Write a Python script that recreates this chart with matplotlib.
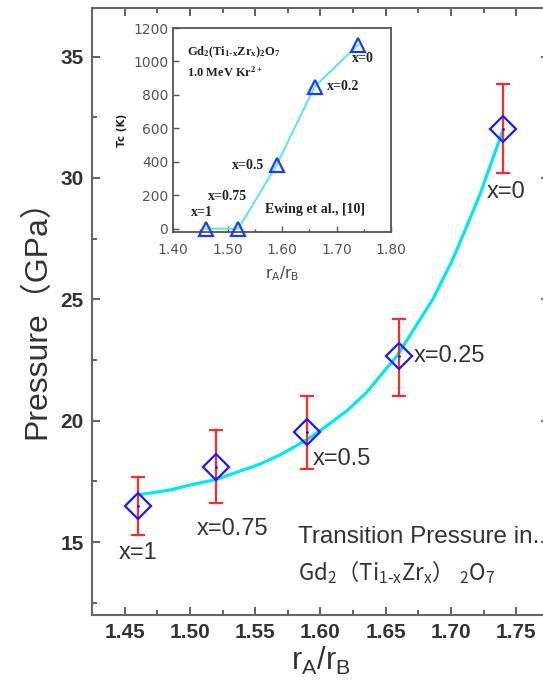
import numpy as np
import matplotlib
matplotlib.use('Agg')
import matplotlib.pyplot as plt
from matplotlib.ticker import MultipleLocator

# Datos: presión de transición vs r_A/r_B
ratio = [1.46, 1.52, 1.59, 1.66, 1.74]
pressure = [16.5, 18.1, 19.55, 22.65, 32.0]
err_low = [15.3, 16.6, 18.0, 21.0, 30.2]
err_high = [17.7, 19.6, 21.0, 24.2, 33.85]
labels_main = ['x=1', 'x=0.75', 'x=0.5', 'x=0.25', 'x=0']

# curva ajustada (puntos leídos sobre la línea cian)
fit_x = [1.46, 1.485, 1.50, 1.52, 1.553, 1.57, 1.589, 1.60, 1.62, 1.635, 1.659,
         1.686, 1.70, 1.7065, 1.722, 1.73, 1.74]
fit_y = [16.94, 17.15, 17.35, 17.58, 18.2, 18.62, 19.2, 19.6, 20.4, 21.15, 22.7,
         25.0, 26.5, 27.3, 29.3, 30.5, 32.0]

# Recuadro: temperatura crítica Tc (Ewing et al.)
inset_x = [1.46, 1.52, 1.59, 1.66, 1.74]
inset_tc = [0, 0, 380, 850, 1100]
labels_inset = ['x=1', 'x=0.75', 'x=0.5', 'x=0.2', 'x=0']

plt.rcParams['mathtext.default'] = 'regular'
gris = '#333333'

fig = plt.figure(figsize=(5.43, 6.83), dpi=100)
ax = fig.add_axes([0.1694, 0.0996, 0.8416, 0.8887])

ax.plot(fit_x, fit_y, color='#00e8f0', lw=2.3, solid_capstyle='round',
        solid_joinstyle='round', zorder=2)
yerr = [np.array(pressure) - np.array(err_low), np.array(err_high) - np.array(pressure)]
ax.errorbar(ratio, pressure, yerr=yerr, fmt='none', ecolor='#ff2a2a', elinewidth=1.6,
            capsize=4.7, capthick=1.6, zorder=3)
ax.plot(ratio, pressure, 'D', ms=13.5, mfc='none', mec='#1a1aff', mew=1.6, zorder=4)
ax.plot(ratio, pressure, '.', ms=2, color='#1a1aff', zorder=5)

# etiquetas de cada punto (desplazamientos en puntos)
offsets = [(0, -34, 'center'), (12, -45, 'center'), (3.7, -20, 'left'),
           (11, 0, 'left'), (2, -45, 'center')]
for xi, yi, lab, (dx, dy, ha) in zip(ratio, pressure, labels_main, offsets):
    ax.annotate(lab, (xi, yi), xytext=(dx, dy), textcoords='offset points',
                ha=ha, va='center', fontsize=17, color=gris, family='Liberation Sans')

ax.text(0.451, 0.1285, 'Transition Pressure in.', transform=ax.transAxes,
        fontsize=17.5, color=gris, family='Liberation Sans', va='center')
ax.text(0.451, 0.0708, r'Gd$_2$（Ti$_{1\text{-}x}$Zr$_x$） $_2$O$_7$', transform=ax.transAxes,
        fontsize=16, color=gris, family='Noto Sans CJK SC', va='center')

ax.set_xlim(1.425, 1.775)
ax.set_ylim(12, 37)
ax.xaxis.set_major_locator(MultipleLocator(0.05))
ax.xaxis.set_minor_locator(MultipleLocator(0.025))
ax.yaxis.set_major_locator(MultipleLocator(5))
ax.yaxis.set_minor_locator(MultipleLocator(2.5))
ax.xaxis.set_major_formatter(plt.FormatStrFormatter('%.2f'))
ax.tick_params(which='both', direction='in', top=True, right=True, color='#555555',
               width=1.3)
ax.tick_params(which='major', length=6, labelsize=15, labelcolor=gris, pad=6)
ax.tick_params(which='minor', length=3.5)
for t in ax.get_xticklabels() + ax.get_yticklabels():
    t.set_fontweight('bold')
    t.set_family('Liberation Sans')
for s in ax.spines.values():
    s.set_color('#666666')
    s.set_linewidth(1.5)

ax.set_xlabel('r$_A$/r$_B$', fontsize=22, color=gris, family='Liberation Sans', labelpad=2)
ax.set_ylabel('Pressure（GPa）', fontsize=23, color=gris,
              family=['Liberation Sans', 'Noto Sans CJK SC'], labelpad=6)

# Recuadro
axi = fig.add_axes([0.3186, 0.6603, 0.4015, 0.2987])
axi.plot(inset_x, inset_tc, color='#60e4f0', lw=1.5, zorder=2)
axi.plot(inset_x, inset_tc, '^', ms=10, mfc='none', mec='#1a3cff', mew=1.6,
         clip_on=False, zorder=3)
offs_in = [(-3, 12, 'center'), (-8, 23, 'center'), (-9, 0, 'right'),
           (9, 0, 'left'), (3.6, -10, 'center')]
for xi, yi, lab, (dx, dy, ha) in zip(inset_x, inset_tc, labels_inset, offs_in):
    axi.annotate(lab, (xi, yi), xytext=(dx, dy), textcoords='offset points',
                 ha=ha, va='center', fontsize=10, fontweight='bold', color='#222222',
                 family='Liberation Serif')
axi.text(0.064, 0.882, r'Gd$_2$(Ti$_{1\text{-}x}$Zr$_x$)$_2$O$_7$', transform=axi.transAxes,
         fontsize=9, fontweight='bold', color='#222222', family='Liberation Serif', va='center')
axi.text(0.064, 0.784, '1.0 MeV Kr$^{2+}$', transform=axi.transAxes,
         fontsize=9, fontweight='bold', color='#222222', family='Liberation Serif', va='center')
axi.text(0.422, 0.108, 'Ewing et al., [10]', transform=axi.transAxes,
         fontsize=10, fontweight='bold', color='#222222', family='Liberation Serif', va='center')

axi.set_xlim(1.40, 1.80)
axi.set_ylim(-20, 1200)
axi.xaxis.set_major_locator(MultipleLocator(0.1))
axi.xaxis.set_minor_locator(MultipleLocator(0.05))
axi.yaxis.set_major_locator(MultipleLocator(200))
axi.xaxis.set_major_formatter(plt.FormatStrFormatter('%.2f'))
axi.tick_params(which='both', direction='in', color='#555555', labelsize=10,
                labelcolor='#555555', width=1)
axi.tick_params(which='major', length=4)
axi.tick_params(axis='x', which='major', pad=8)
axi.tick_params(which='minor', length=2.5)
for s in axi.spines.values():
    s.set_color('#555555')
    s.set_linewidth(1.3)
axi.set_xlabel('r$_A$/r$_B$', fontsize=11, color='#444444', labelpad=5)
axi.set_ylabel('Tc (K)', fontsize=7.5, fontweight='bold', color='#222222', labelpad=4)

plt.savefig('out.png', dpi=100)
